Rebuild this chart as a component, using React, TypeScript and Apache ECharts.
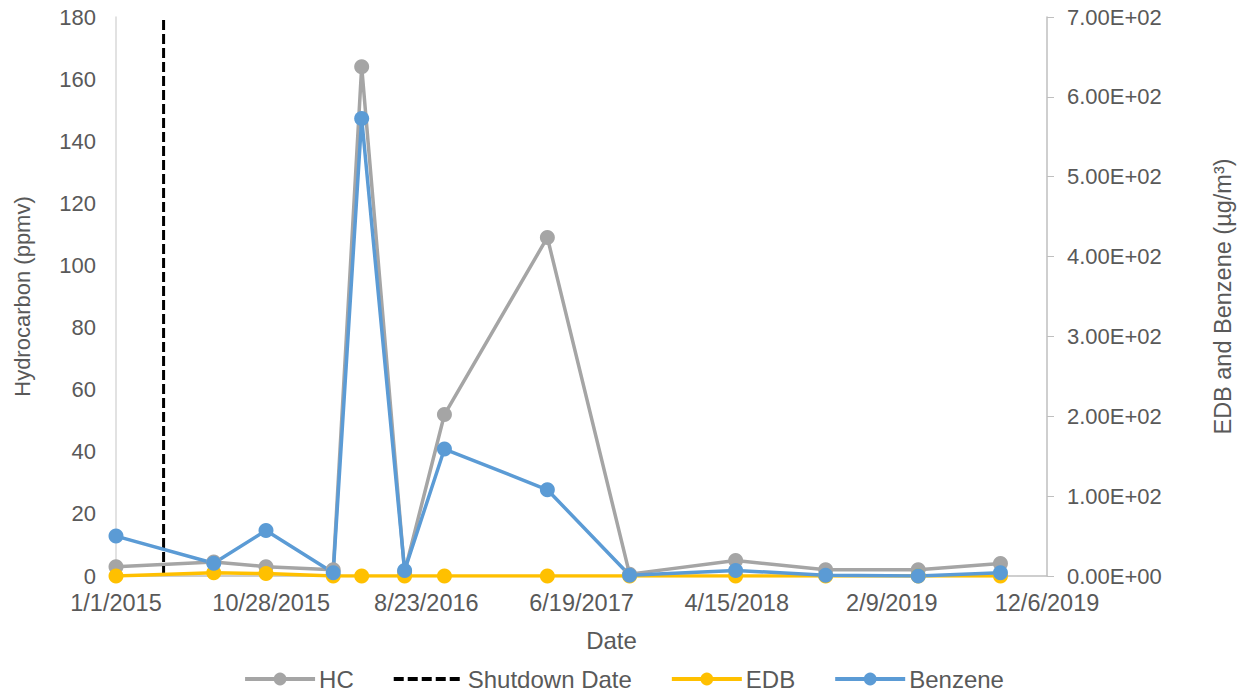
import React, { useEffect, useRef } from "react";
import * as echarts from "echarts";

const sampleDates = [
  "2015-01-01", "2015-07-09", "2015-10-18", "2016-02-25", "2016-04-20",
  "2016-07-12", "2016-09-27", "2017-04-14", "2017-09-20", "2018-04-13",
  "2018-10-04", "2019-04-01", "2019-09-07",
];
const hcValues = [3, 4.5, 3, 2, 164, 1.3, 52, 109, 0.6, 5, 2, 2, 4];
const edbValues = [0, 4, 3, 0, 0, 0, 0, 0, 0, 0, 0, 0, 0];
const benzeneValues = [50, 16, 57, 4, 573, 7, 159, 108, 1, 7, 1, 0, 4];
const shutdownDate = "2015-04-03";
const axisStartDate = "2015-01-01";
const xTickDays = { min: 0, max: 1800, interval: 300 };
const leftAxisRange = { min: 0, max: 180, interval: 20 };
const rightAxisRange = { min: 0, max: 700, interval: 100 };

const DAY = 86400000;
const startMs = Date.parse(axisStartDate + "T00:00:00Z");
const toDay = (s: string) => Math.round((Date.parse(s + "T00:00:00Z") - startMs) / DAY);
const dayLabel = (v: number) => {
  const d = new Date(startMs + v * DAY);
  return `${d.getUTCMonth() + 1}/${d.getUTCDate()}/${d.getUTCFullYear()}`;
};
const sci = (v: number) => {
  if (v === 0) return "0.00E+00";
  const e = Math.floor(Math.log10(Math.abs(v)));
  const m = v / Math.pow(10, e);
  const es = (e < 0 ? "-" : "+") + String(Math.abs(e)).padStart(2, "0");
  return `${m.toFixed(2)}E${es}`;
};

const FONT = "Liberation Sans, Arial, sans-serif";
const TXT = "#595959";
const AXIS = "#BFBFBF";

export default function App() {
  const ref = useRef<HTMLDivElement>(null);
  useEffect(() => {
    if (!ref.current) return;
    const chart = echarts.init(ref.current, null, { renderer: "svg" });
    const days = sampleDates.map(toDay);
    const sd = toDay(shutdownDate);
    const lineSeries = (name: string, vals: number[], color: string, yIdx: number) => ({
      name,
      type: "line",
      yAxisIndex: yIdx,
      data: days.map((d, i) => [d, vals[i]]),
      symbol: "circle",
      symbolSize: 15,
      itemStyle: { color },
      lineStyle: { color, width: 3.5 },
      z: 2,
    });
    chart.setOption({
      animation: false,
      textStyle: { fontFamily: FONT, color: TXT },
      grid: { left: 116, right: 200, top: 17, bottom: 118, containLabel: false },
      legend: {
        top: 662,
        left: "center",
        itemWidth: 70,
        itemHeight: 16,
        itemGap: 38,
        lineStyle: { width: 4 },
        textStyle: { fontFamily: FONT, fontSize: 24, color: TXT, padding: [0, 0, 0, -1] },
        data: [
          "HC",
          { name: "Shutdown Date", itemStyle: { opacity: 0 } },
          "EDB",
          "Benzene",
        ],
      },
      xAxis: {
        type: "value",
        min: xTickDays.min,
        max: xTickDays.max,
        interval: xTickDays.interval,
        name: "Date",
        nameLocation: "middle",
        nameGap: 52,
        nameTextStyle: { fontFamily: FONT, fontSize: 24, color: TXT, padding: [0, 0, 0, 60] },
        axisLine: { show: true, lineStyle: { color: AXIS, width: 1.5 } },
        axisTick: { show: false },
        splitLine: { show: false },
        axisLabel: { formatter: dayLabel, fontFamily: FONT, fontSize: 23.5, color: TXT, margin: 15 },
      },
      yAxis: [
        {
          type: "value",
          min: leftAxisRange.min,
          max: leftAxisRange.max,
          interval: leftAxisRange.interval,
          name: "Hydrocarbon (ppmv)",
          nameLocation: "middle",
          nameGap: 83,
          nameTextStyle: { fontFamily: FONT, fontSize: 22, color: TXT },
          axisLine: { show: true, lineStyle: { color: "#D9D9D9", width: 1.5 } },
          axisTick: { show: false },
          splitLine: { show: false },
          axisLabel: { fontFamily: FONT, fontSize: 22, color: TXT, margin: 20 },
        },
        {
          type: "value",
          position: "right",
          min: rightAxisRange.min,
          max: rightAxisRange.max,
          interval: rightAxisRange.interval,
          name: "EDB and Benzene (µg/m³)",
          nameLocation: "middle",
          nameGap: 164,
          nameTextStyle: { fontFamily: FONT, fontSize: 23.5, color: TXT },
          axisLine: { show: true, lineStyle: { color: AXIS, width: 1.5 } },
          axisTick: { show: true, length: 7, lineStyle: { color: AXIS } },
          splitLine: { show: false },
          axisLabel: { formatter: sci, fontFamily: FONT, fontSize: 22, color: TXT, margin: 20 },
        },
      ],
      series: [
        lineSeries("HC", hcValues, "#A5A5A5", 0),
        {
          name: "Shutdown Date",
          type: "line",
          yAxisIndex: 0,
          data: [[sd, leftAxisRange.min], [sd, leftAxisRange.max]],
          symbol: "none",
          itemStyle: { color: "#000000" },
          lineStyle: { color: "#000000", width: 3, type: [10, 4] },
          z: 2,
        },
        lineSeries("EDB", edbValues, "#FFC000", 1),
        lineSeries("Benzene", benzeneValues, "#5B9BD5", 1),
      ],
    });
    return () => chart.dispose();
  }, []);
  return (
    <div
      ref={ref}
      style={{ position: "absolute", left: 0, top: 0, width: 1247, height: 694 }}
    />
  );
}
